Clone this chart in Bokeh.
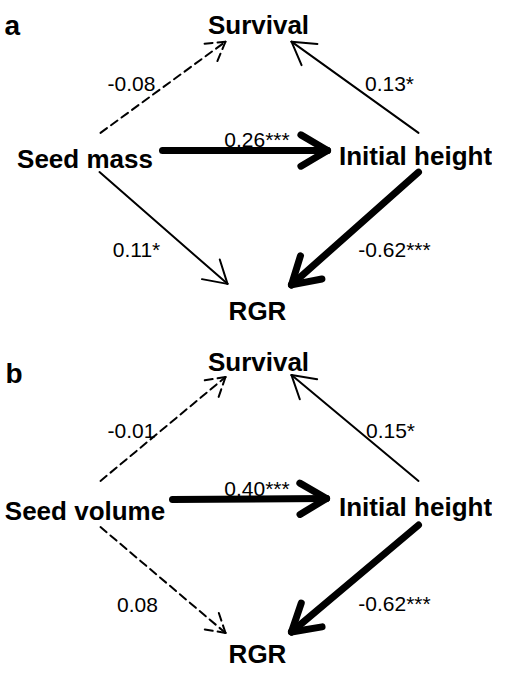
import math
from bokeh.plotting import figure
from bokeh.models import Range1d
from bokeh.core.properties import value
from bokeh.embed import file_html
from bokeh.resources import INLINE

# ---------------- data ----------------
panel_letters = ["a", "b"]
predictors = ["Seed mass", "Seed volume"]
node_survival = "Survival"
node_height = "Initial height"
node_rgr = "RGR"
# edges: pred->Survival, pred->Initial height, pred->RGR, height->Survival, height->RGR
coef_a = [-0.08, 0.26, 0.11, 0.13, -0.62]
sig_a = ["", "***", "*", "*", "***"]
coef_b = [-0.01, 0.40, 0.08, 0.15, -0.62]
sig_b = ["", "***", "", "*", "***"]

# ---------------- layout (reference-page pixels) ----------------
W, H = 492, 664
Y_SPAN = 677.2          # reference pixels shown over the figure height (slight squeeze)
FONT = "Liberation Sans"
layout = {
    "a": dict(
        letter=(12, 33),
        survival=(266, 33), pred=(92.5, 170), height=(423, 167), rgr=(265, 325),
        edges=[((108, 143), (233, 50)), ((170, 161), (335, 161)), ((107, 183), (235, 297)),
               ((426, 143), (299, 50)), ((426, 183), (299, 298))],
        labels=[(139, 93), (264.5, 150), (144, 262), (397, 93), (402, 262)],
    ),
    "b": dict(
        letter=(13, 388),
        survival=(266, 377), pred=(92.5, 529), height=(423, 525), rgr=(265, 675),
        edges=[((108, 498), (233, 392)), ((180, 517), (334, 516)), ((108, 545), (233, 653)),
               ((426, 498), (299, 390)), ((426, 543), (299, 652))],
        labels=[(139, 447), (264.5, 506), (145, 625), (398, 447), (402, 623)],
    ),
}
styles = {
    "***": dict(width=7, dash="solid", head=31),
    "*": dict(width=2, dash="solid", head=26),
    "": dict(width=2, dash="8 5", head=24),
}
HALF_ANGLE = math.radians(31)

p = figure(width=W, height=H, output_backend="svg", toolbar_location=None, title=None,
           x_range=Range1d(8, 8 + W), y_range=Range1d(8 + Y_SPAN, 8),
           x_axis_location=None, y_axis_location=None,
           min_border=0, min_border_left=0, min_border_right=0,
           min_border_top=0, min_border_bottom=0)
p.grid.visible = False
p.outline_line_color = None
p.background_fill_color = "white"
p.border_fill_color = "white"


def fmt(c, s):
    return f"{c:.2f}{s}"


for letter, pred, coefs, sigs in zip(panel_letters, predictors, [coef_a, coef_b], [sig_a, sig_b]):
    L = layout[letter]
    # panel letter
    p.text(x=[L["letter"][0]], y=[L["letter"][1]], text=[letter], text_font=value(FONT),
           text_font_style="bold", text_font_size="28px", text_color="black",
           text_align="left", text_baseline="alphabetic")
    # nodes
    names = [node_survival, pred, node_height, node_rgr]
    pos = [L["survival"], L["pred"], L["height"], L["rgr"]]
    p.text(x=[q[0] for q in pos], y=[q[1] for q in pos], text=names, text_font=value(FONT),
           text_font_style="bold", text_font_size="26px", text_color="black",
           text_align="center", text_baseline="alphabetic")
    # edges (screen-space arrowheads; x and y scales are nearly equal)
    for (tail, tip), c, s, lab in zip(L["edges"], coefs, sigs, L["labels"]):
        st = styles[s]
        dx, dy = tip[0] - tail[0], tip[1] - tail[1]
        n = math.hypot(dx, dy)
        bx, by = -dx / n, -dy / n
        xs0, ys0, xs1, ys1 = [tail[0]], [tail[1]], [tip[0]], [tip[1]]
        for sgn in (1, -1):
            a = sgn * HALF_ANGLE
            wx = bx * math.cos(a) - by * math.sin(a)
            wy = bx * math.sin(a) + by * math.cos(a)
            xs0.append(tip[0]); ys0.append(tip[1])
            xs1.append(tip[0] + st["head"] * wx); ys1.append(tip[1] + st["head"] * wy)
        p.segment(x0=xs0, y0=ys0, x1=xs1, y1=ys1, line_color="black",
                  line_width=st["width"], line_dash=st["dash"], line_cap="round")
        p.text(x=[lab[0]], y=[lab[1]], text=[fmt(c, s)], text_font=value(FONT),
               text_font_size="21px", text_color="black",
               text_align="center", text_baseline="alphabetic")

open("out.html", "w").write(file_html(p, INLINE))
